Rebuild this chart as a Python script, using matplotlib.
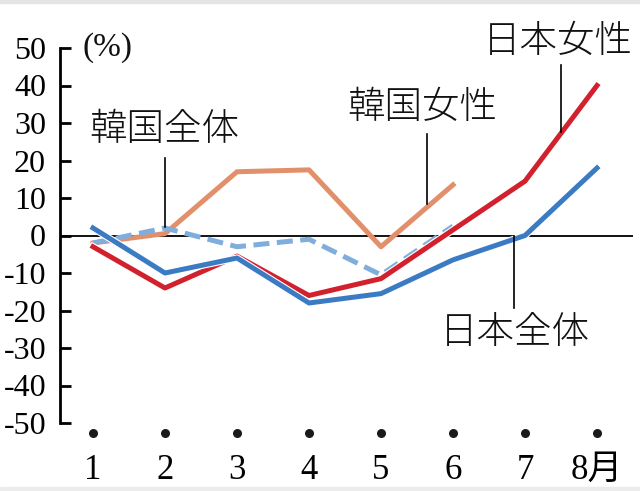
import matplotlib
matplotlib.use("Agg")
import matplotlib.pyplot as plt
import matplotlib.patheffects as pe
from matplotlib.patches import Rectangle
import matplotlib.transforms as mtransforms

months = [1, 2, 3, 4, 5, 6, 7, 8]
month_labels = ["1", "2", "3", "4", "5", "6", "7", "8月"]
yticks = [50, 40, 30, 20, 10, 0, -10, -20, -30, -40, -50]

korea_women = [-2, 0.5, 17, 17.5, -3, 13.5]
korea_all = [-2, 2, -3, -1, -10.5, 2.5]
japan_women = [-3, -14, -5.5, -16, -11.5, 1.5, 14.5, 40]
japan_all = [2, -10, -6, -18, -15.5, -6.5, 0, 18]

c_kw = "#E2906C"
c_ka = "#80AEDC"
c_jw = "#D2202C"
c_ja = "#3B7BC3"

serif = ["Liberation Serif", "Noto Sans CJK JP"]
cjk = ["Noto Sans CJK JP", "DejaVu Sans"]

fig = plt.figure(figsize=(6.4, 4.91), dpi=100)
fig.patch.set_facecolor("white")
fig.patches.append(Rectangle((0, 0), 1, 4/491, transform=fig.transFigure, color="#ECECEC", zorder=0))
fig.patches.append(Rectangle((0, 1 - 3/491), 1, 3/491, transform=fig.transFigure, color="#E4E4E4", zorder=0))

ax = fig.add_axes([60/640, 68/491, 573/640, 375/491])
ax.set_xlim(1 - 33/72, 8.5)
ax.set_ylim(-50, 50)
for s in ["top", "right", "bottom"]:
    ax.spines[s].set_visible(False)
ax.spines["left"].set_linewidth(2)
ax.patch.set_alpha(0)

ax.set_yticks(yticks)
ax.set_yticklabels([str(v) for v in yticks], fontfamily=serif, fontsize=23)
ax.tick_params(axis="y", direction="in", length=8, width=2, pad=10)
ax.set_xticks(months)
ax.set_xticklabels(month_labels, fontfamily=serif, fontsize=25)
ax.tick_params(axis="x", length=0, pad=22)

ax.axhline(0, color="black", lw=1.3, zorder=1)

# dots under axis
trans = mtransforms.blended_transform_factory(ax.transData, ax.transAxes)
ax.scatter(months, [-0.027] * len(months), s=30, color="#1a1a1a", transform=trans, clip_on=False, zorder=5)

outline = [pe.Stroke(linewidth=5.2, foreground="white"), pe.Normal()]
ax.plot(months[:len(korea_women)], korea_women, color=c_kw, lw=3.6, zorder=2)
ax.plot(months[:len(korea_all)], korea_all, color=c_ka, lw=3.6, ls=(0, (3.2, 1.5)), zorder=3)
ax.plot(months, japan_women, color=c_jw, lw=3.6, zorder=4, path_effects=outline)
ax.plot(months, japan_all, color=c_ja, lw=3.6, zorder=5, path_effects=outline)

# annotations
def label(x, y, s):
    ax.text(x, y, s, fontfamily=cjk, fontsize=27, fontweight="light", ha="center", va="center", color="#111111")

label(1.99, 28.3, "韓国全体")
ax.plot([2, 2], [20.8, 2.2], color="black", lw=1.2, zorder=6)
label(5.58, 34.2, "韓国女性")
ax.plot([5.64, 5.64], [27, 8.3], color="black", lw=1.2, zorder=6)
label(7.45, 51.8, "日本女性")
ax.plot([7.5, 7.5], [45.6, 27.5], color="black", lw=1.2, zorder=6)
label(6.86, -25.9, "日本全体")
ax.plot([6.85, 6.85], [0, -19.2], color="black", lw=1.2, zorder=6)

ax.text(1.2, 50, "(%)", fontfamily=serif, fontsize=24, ha="center", va="center", color="#111111")

fig.savefig("out.png", dpi=100)
